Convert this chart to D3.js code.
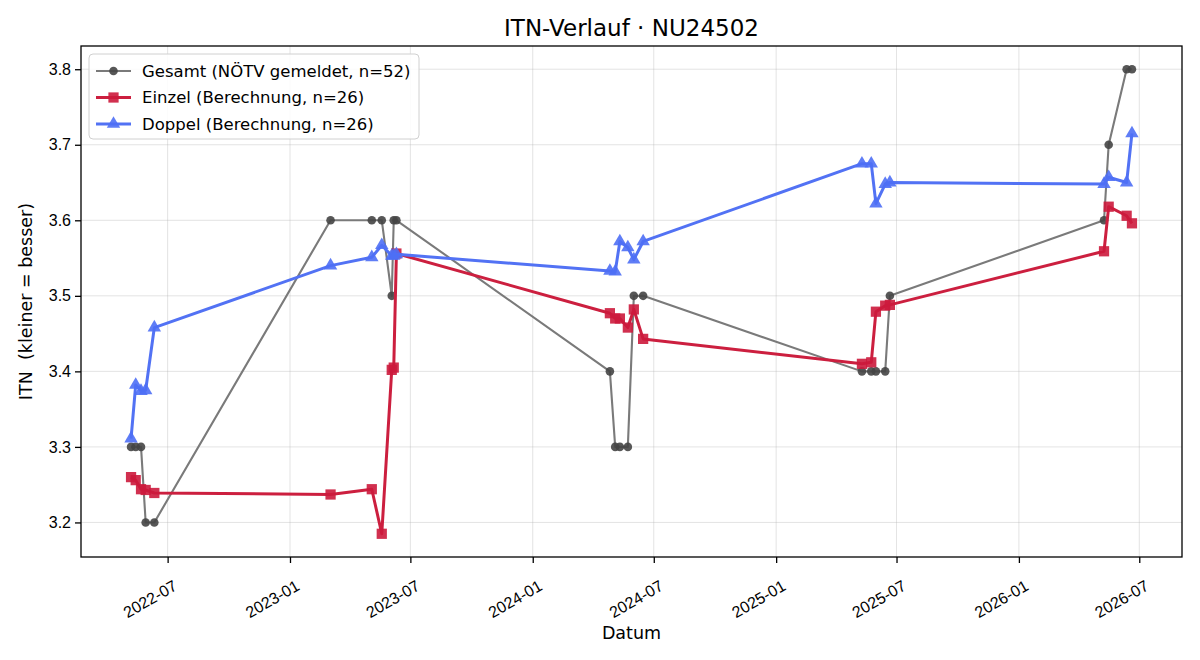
<!DOCTYPE html>
<html>
<head>
<meta charset="utf-8">
<script src="https://cdn.jsdelivr.net/npm/d3@7"></script>
<style>
  body { margin: 0; background: #fff; }
  svg { font-family: "DejaVu Sans", sans-serif; }
  .grid line { stroke: #b0b0b0; stroke-opacity: 0.35; }
  .axis path, .axis line { stroke: #000; stroke-width: 1.3; }
</style>
</head>
<body>
<div id="chart"></div>
<script>
// dates of the 26 events (shared by all three series)
const dates = [
  "2022-05-07", "2022-05-14", "2022-05-22", "2022-05-29", "2022-06-11",
  "2023-03-03", "2023-05-04", "2023-05-19", "2023-06-03", "2023-06-06", "2023-06-10",
  "2024-04-26", "2024-05-04", "2024-05-11", "2024-05-23", "2024-06-01", "2024-06-15",
  "2025-05-10", "2025-05-24", "2025-05-31", "2025-06-14", "2025-06-21",
  "2026-05-09", "2026-05-16", "2026-06-12", "2026-06-20"
];

const gesamt = [
  3.3, 3.3, 3.3, 3.2, 3.2,
  3.6, 3.6, 3.6, 3.5, 3.6, 3.6,
  3.4, 3.3, 3.3, 3.3, 3.5, 3.5,
  3.4, 3.4, 3.4, 3.4, 3.5,
  3.6, 3.7, 3.8, 3.8
];

const einzel = [
  3.260, 3.256, 3.244, 3.243, 3.239,
  3.237, 3.244, 3.185, 3.402, 3.405, 3.556,
  3.477, 3.470, 3.470, 3.458, 3.482, 3.443,
  3.410, 3.412, 3.479, 3.487, 3.488,
  3.559, 3.618, 3.606, 3.596
];

const doppel = [
  3.311, 3.382, 3.374, 3.375, 3.458,
  3.540, 3.551, 3.567, 3.553, 3.553, 3.555,
  3.533, 3.532, 3.572, 3.564, 3.548, 3.572,
  3.675, 3.675, 3.622, 3.648, 3.650,
  3.648, 3.657, 3.650, 3.715
];

const legendLabels = [
  "Gesamt (NÖTV gemeldet, n=52)",
  "Einzel (Berechnung, n=26)",
  "Doppel (Berechnung, n=26)"
];

const yTicks = [3.2, 3.3, 3.4, 3.5, 3.6, 3.7, 3.8];
const xTicks = ["2022-07", "2023-01", "2023-07", "2024-01", "2024-07", "2025-01", "2025-07", "2026-01", "2026-07"];

/* layout */
const W = 1200, H = 660;
const margin = {top: 46, right: 18, bottom: 103, left: 81};
const width = W - margin.left - margin.right;
const height = H - margin.top - margin.bottom;

const parse = d3.timeParse("%Y-%m-%d");
const parseM = d3.timeParse("%Y-%m");
const dts = dates.map(parse);

const svg = d3.select("#chart").append("svg")
  .attr("width", W)
  .attr("height", H);

const g = svg.append("g")
  .attr("transform", `translate(${margin.left},${margin.top})`);

/* scales with 5% padding like matplotlib */
const [x0, x1] = d3.extent(dts);
const padX = (x1 - x0) * 0.05;
const xScale = d3.scaleTime()
  .domain([new Date(+x0 - padX), new Date(+x1 + padX)])
  .range([0, width]);

const allY = gesamt.concat(einzel, doppel);
const [y0, y1] = d3.extent(allY);
const padY = (y1 - y0) * 0.05;
const yScale = d3.scaleLinear()
  .domain([y0 - padY, y1 + padY])
  .range([height, 0]);

/* grid */
g.append("g").attr("class", "grid")
  .selectAll("line").data(xTicks.map(parseM)).join("line")
  .attr("x1", d => xScale(d)).attr("x2", d => xScale(d))
  .attr("y1", 0).attr("y2", height);
g.append("g").attr("class", "grid")
  .selectAll("line").data(yTicks).join("line")
  .attr("x1", 0).attr("x2", width)
  .attr("y1", d => yScale(d)).attr("y2", d => yScale(d));

/* axes */
const xAxis = d3.axisBottom(xScale)
  .tickValues(xTicks.map(parseM))
  .tickFormat(d3.timeFormat("%Y-%m"))
  .tickSize(6).tickPadding(4);
const xg = g.append("g").attr("class", "axis")
  .attr("transform", `translate(0,${height})`)
  .call(xAxis);
xg.select(".domain").remove();
xg.selectAll("text")
  .style("font-size", "16px")
  .attr("fill", "#000")
  .attr("text-anchor", "end")
  .attr("dy", "0.6em")
  .attr("dx", "0.1em")
  .attr("transform", "translate(-1,16) rotate(-30)");

const yAxis = d3.axisLeft(yScale)
  .tickValues(yTicks)
  .tickFormat(d3.format(".1f"))
  .tickSize(6).tickPadding(4);
const yg = g.append("g").attr("class", "axis").call(yAxis);
yg.select(".domain").remove();
yg.selectAll("text").style("font-size", "16px").attr("fill", "#000");

/* frame */
g.append("rect")
  .attr("width", width).attr("height", height)
  .attr("fill", "none").attr("stroke", "#000").attr("stroke-width", 1.3);

/* series */
const series = [
  {vals: gesamt, line: "#7a7a7a", mark: "#454545", lw: 2.1, shape: d3.symbolCircle, size: 58},
  {vals: einzel, line: "#cc1f3f", mark: "#cc1a3c", lw: 3, shape: d3.symbolSquare, size: 105},
  {vals: doppel, line: "#5272f4", mark: "#4e6ff5", lw: 3, shape: d3.symbolTriangle, size: 78}
];

const lineGen = d3.line()
  .x(d => xScale(d[0]))
  .y(d => yScale(d[1]));

series.forEach(s => {
  const pts = dts.map((d, i) => [d, s.vals[i]]);
  g.append("path")
    .datum(pts)
    .attr("d", lineGen)
    .attr("fill", "none")
    .attr("stroke", s.line)
    .attr("stroke-width", s.lw)
    .attr("stroke-linejoin", "round");
  g.append("g").selectAll("path").data(pts).join("path")
    .attr("d", d3.symbol(s.shape, s.size))
    .attr("transform", d => `translate(${xScale(d[0])},${yScale(d[1])})`)
    .attr("fill", s.mark)
    .attr("fill-opacity", 0.9);
});

/* title & labels */
svg.append("text")
  .attr("x", margin.left + width / 2).attr("y", 36)
  .attr("text-anchor", "middle")
  .attr("font-size", 23)
  .text("ITN-Verlauf · NU24502");

svg.append("text")
  .attr("x", margin.left + width / 2).attr("y", 639)
  .attr("text-anchor", "middle")
  .attr("font-size", 17.5)
  .text("Datum");

svg.append("text")
  .attr("transform", `translate(32,${margin.top + height / 2}) rotate(-90)`)
  .attr("text-anchor", "middle")
  .attr("font-size", 17.5)
  .attr("xml:space", "preserve")
  .style("white-space", "pre")
  .text("ITN  (kleiner = besser)");

/* legend */
const lg = svg.append("g").attr("transform", "translate(89,54)");
lg.append("rect")
  .attr("width", 330).attr("height", 85)
  .attr("rx", 4)
  .attr("fill", "#fff").attr("fill-opacity", 0.85)
  .attr("stroke", "#d0d0d0");
legendLabels.forEach((lab, i) => {
  const s = series[i];
  const cy = 17 + i * 26.5;
  lg.append("line")
    .attr("x1", 7).attr("x2", 42).attr("y1", cy).attr("y2", cy)
    .attr("stroke", s.line).attr("stroke-width", s.lw);
  lg.append("path")
    .attr("d", d3.symbol(s.shape, s.size))
    .attr("transform", `translate(24.5,${cy})`)
    .attr("fill", s.mark).attr("fill-opacity", 0.9);
  lg.append("text")
    .attr("x", 53).attr("y", cy).attr("dy", "0.35em")
    .attr("font-size", 16.5)
    .text(lab);
});
</script>
</body>
</html>
